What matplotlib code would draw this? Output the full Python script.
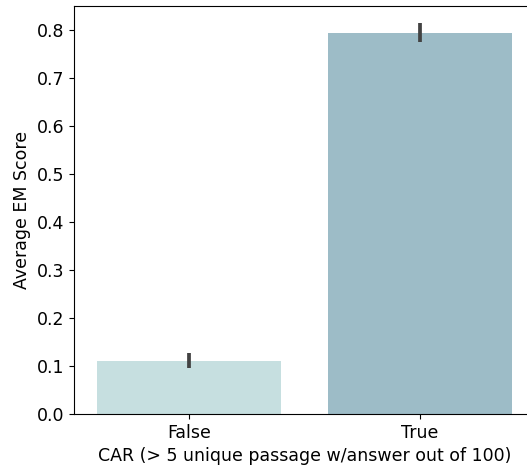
import numpy as np
import matplotlib
matplotlib.use("Agg")
import matplotlib.pyplot as plt

# data
categories = ["False", "True"]
scores = [0.110, 0.793]
ci_low = [0.095, 0.774]
ci_high = [0.127, 0.814]
colors = ["#c6dfe0", "#9dbcc7"]

fs = 12.5

fig = plt.figure(figsize=(5.27, 4.68), dpi=100)
# axes run past the right edge of the figure like the cropped original
ax = fig.add_axes([74/527, 54/468, 461/527, 408/468])

x = np.arange(len(categories))
ax.bar(x, scores, width=0.8, color=colors)
ax.vlines(x, ci_low, ci_high, color="#424242", linewidth=2.7)

ax.set_xlim(-0.5, 1.5)
ax.set_ylim(0, 0.85)
ax.set_xticks(x)
ax.set_xticklabels(categories, fontsize=fs)
ax.set_yticks(np.arange(0, 0.81, 0.1))
ax.set_yticklabels(["%.1f" % v for v in np.arange(0, 0.81, 0.1)], fontsize=fs)
ax.set_ylabel("Average EM Score", fontsize=fs)
ax.set_xlabel("CAR (> 5 unique passage w/answer out of 100)", fontsize=fs)

fig.savefig("out.png", dpi=100)
